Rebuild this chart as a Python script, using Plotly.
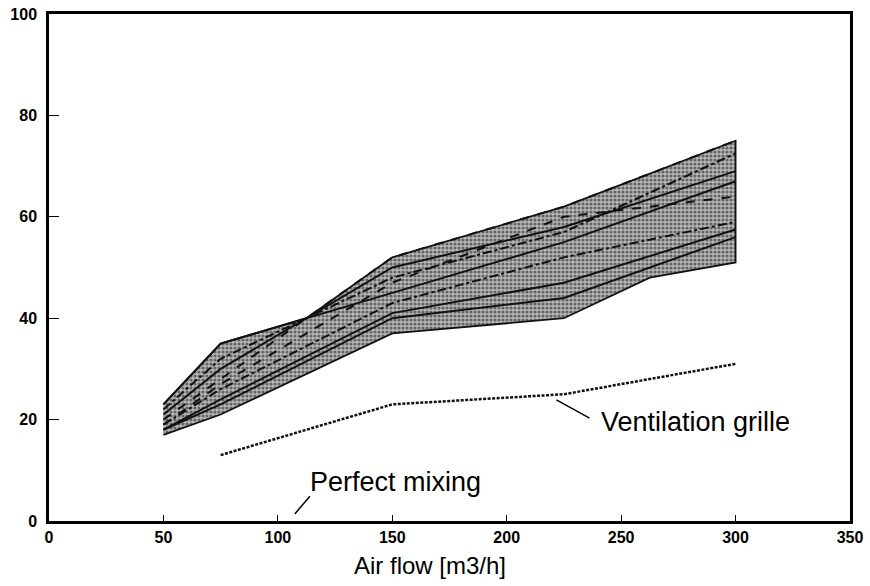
import plotly.graph_objects as go

# ---- data ----
flow = [50, 75, 150, 225, 300]

band_upper_x = [50, 75, 112.5, 150, 225, 300]
band_upper_y = [23, 35, 40, 52, 62, 75]
band_lower_x = [50, 75, 150, 225, 262.5, 300]
band_lower_y = [17, 21, 37, 40, 48, 51]

series = [
    [23, 35, 45, 55, 67],
    [20, 28, 52, 62, 75],
    [22, 32, 48, 57, 72.5],
    [21, 30, 50, 58, 69],
    [19, 27, 47, 60, 64],
    [19, 26, 43, 52, 59],
    [18, 24, 41, 47, 57.5],
    [18, 23, 40, 44, 56],
]
series_dash = ["solid", "dash", "dashdot", "solid", "dash", "dashdot", "solid", "solid"]

grille_x = [75, 150, 225, 300]
grille_y = [13, 23, 25, 31]

x_ticks = [0, 50, 100, 150, 200, 250, 300, 350]
y_ticks = [0, 20, 40, 60, 80, 100]

FONT = "Liberation Sans, Arial, Helvetica"

fig = go.Figure()

# shaded band
poly_x = band_upper_x + band_lower_x[::-1]
poly_y = band_upper_y + band_lower_y[::-1]
fig.add_trace(go.Scatter(
    x=poly_x, y=poly_y, mode="lines", fill="toself",
    line=dict(color="#111", width=1.8),
    fillcolor="#8a8a8a",
    fillpattern=dict(shape=".", fgcolor="#111111", bgcolor="#b8b8b8", size=4, solidity=0.5),
    hoverinfo="skip", showlegend=False,
))

for ys, d in zip(series, series_dash):
    fig.add_trace(go.Scatter(
        x=flow, y=ys, mode="lines",
        line=dict(color="#111", width=2, dash=d),
        showlegend=False,
    ))

fig.add_trace(go.Scatter(
    x=grille_x, y=grille_y, mode="lines",
    line=dict(color="#111", width=2.5, dash="3px,1.5px"),
    showlegend=False,
))

# labels and leader lines
fig.add_shape(type="line", x0=221.7, y0=23.9, x1=236.2, y1=20.3,
              line=dict(color="black", width=1.5))
fig.add_annotation(x=240.5, y=19.6, text="Ventilation grille", showarrow=False,
                   xanchor="left", yanchor="middle",
                   font=dict(family=FONT, size=27, color="black"))
fig.add_shape(type="line", x0=107.4, y0=1.4, x1=114, y1=4.9,
              line=dict(color="black", width=1.5))
fig.add_annotation(x=113.3, y=7.6, text="Perfect mixing", showarrow=False,
                   xanchor="left", yanchor="middle",
                   font=dict(family=FONT, size=27, color="black"))

# x-axis title (sits slightly left of centre in the original)
fig.add_annotation(x=166.4, xref="x", y=-0.087, yref="paper", text="Air flow [m3/h]",
                   showarrow=False, xanchor="center", yanchor="middle",
                   font=dict(family=FONT, size=24, color="black"))

axis_common = dict(
    showgrid=False, zeroline=False, showline=True, linecolor="black", linewidth=2.5,
    mirror=True, ticks="inside", tickcolor="black", tickwidth=1.2, automargin=False,
    tickfont=dict(family=FONT, size=16, color="black", weight="bold"),
)
fig.update_xaxes(range=[0, 350], tickvals=x_ticks, ticklen=6, **axis_common)
fig.update_yaxes(range=[0, 100], tickvals=y_ticks, ticklen=10, ticklabelstandoff=6,
                 **axis_common)

fig.update_layout(
    width=870, height=586,
    margin=dict(l=49, r=20, t=14, b=65),
    paper_bgcolor="white", plot_bgcolor="white",
    showlegend=False,
)

# remove the default 8px page margin so the figure fills the window exactly
fig.write_html("out.html", config={"displayModeBar": False},
               post_script="document.body.style.margin='0';")
